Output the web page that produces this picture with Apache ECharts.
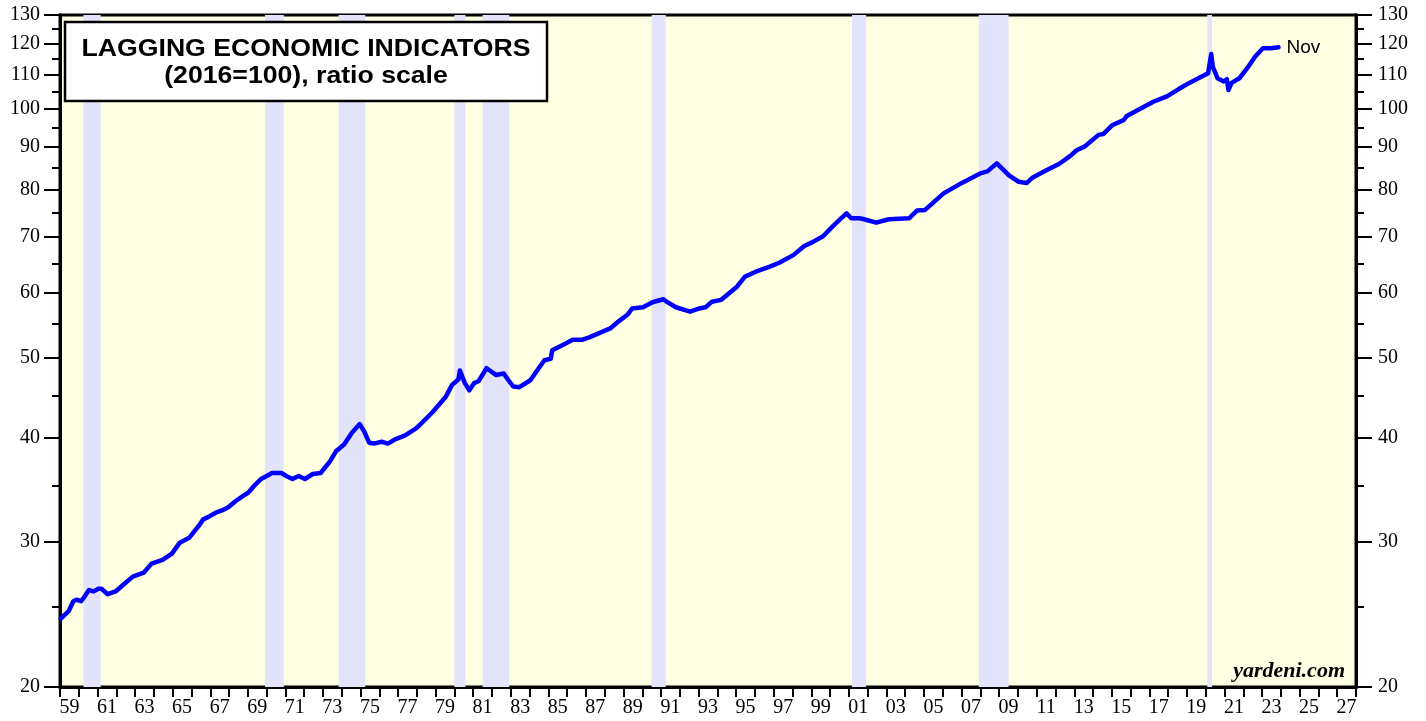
<!DOCTYPE html>
<html>
<head>
<meta charset="utf-8">
<script src="https://cdn.jsdelivr.net/npm/echarts@6/dist/echarts.min.js"></script>
<style>html,body{margin:0;padding:0;background:#fff}#c{width:1426px;height:721px}</style>
</head>
<body>
<div id="c"></div>
<script>
// ---- data ----
const dates = ["1959-01","1959-06","1959-09","1959-11","1960-02","1960-04","1960-07","1960-10","1961-01","1961-03","1961-07","1961-12","1962-04","1962-11","1963-06","1963-11","1964-06","1964-12","1965-05","1965-11","1966-05","1966-08","1966-11","1967-04","1967-08","1967-12","1968-05","1968-10","1969-01","1969-05","1969-09","1970-04","1970-10","1971-01","1971-05","1971-09","1972-01","1972-06","1972-11","1973-05","1973-09","1974-02","1974-07","1974-12","1975-03","1975-06","1975-09","1976-02","1976-06","1976-11","1977-05","1977-12","1978-04","1978-10","1979-03","1979-07","1979-11","1980-03","1980-04","1980-07","1980-10","1981-01","1981-04","1981-09","1982-03","1982-08","1982-11","1983-02","1983-06","1984-01","1984-07","1984-10","1985-02","1985-03","1985-10","1986-04","1986-10","1987-03","1987-09","1988-04","1988-10","1989-03","1989-06","1990-01","1990-07","1991-02","1991-04","1991-10","1992-07","1993-01","1993-05","1993-09","1994-03","1994-08","1995-01","1995-06","1996-01","1996-10","1997-04","1998-01","1998-08","1999-01","1999-08","2000-02","2000-07","2000-11","2001-02","2001-07","2001-09","2002-06","2003-02","2004-03","2004-08","2005-01","2006-01","2007-01","2008-01","2008-05","2008-11","2009-07","2010-01","2010-06","2010-10","2011-07","2012-03","2012-10","2013-02","2013-07","2013-10","2014-04","2014-07","2015-01","2015-08","2015-10","2016-07","2017-03","2017-12","2018-07","2019-02","2019-09","2020-02","2020-04","2020-05","2020-08","2020-12","2021-02","2021-03","2021-05","2021-10","2022-03","2022-08","2023-01","2023-06","2023-11"];
const lagging = [24.2,24.7,25.4,25.5,25.4,25.7,26.2,26.1,26.3,26.3,25.9,26.1,26.5,27.2,27.5,28.2,28.5,29.0,29.9,30.3,31.3,31.9,32.1,32.5,32.7,33.0,33.6,34.1,34.4,35.1,35.7,36.3,36.3,36.0,35.7,36.0,35.7,36.2,36.3,37.5,38.6,39.3,40.6,41.6,40.7,39.5,39.4,39.6,39.4,39.9,40.3,41.1,41.8,42.9,44.0,44.9,46.4,47.1,48.3,46.7,45.7,46.6,46.9,48.6,47.7,47.9,47.0,46.2,46.1,47.0,48.8,49.7,49.9,51.1,51.9,52.6,52.6,53.0,53.6,54.3,55.5,56.4,57.4,57.6,58.4,58.9,58.5,57.6,56.9,57.4,57.6,58.5,58.8,59.9,61.0,62.7,63.6,64.5,65.2,66.6,68.3,69.0,70.2,72.1,73.6,74.8,73.8,73.8,73.7,72.9,73.6,73.8,75.4,75.5,79.1,81.5,83.7,84.1,86.0,83.1,81.7,81.4,82.7,84.4,85.9,87.8,89.2,90.1,91.1,93.1,93.3,95.7,97.0,98.1,100.2,102.1,103.7,105.7,107.6,109.3,110.5,116.6,112.6,109.0,108.0,108.7,105.5,107.6,109.0,112.1,115.7,118.5,118.5,118.8];
const recessions = [["1960-04","1961-02"],["1969-12","1970-11"],["1973-11","1975-03"],["1980-01","1980-07"],["1981-07","1982-11"],["1990-07","1991-03"],["2001-03","2001-11"],["2007-12","2009-06"],["2020-02","2020-04"]];
const yearCats = []; for (let y = 1959; y <= 2027; y++) yearCats.push(String(y));
const majorTicks = [20,30,40,50,60,70,80,90,100,110,120,130];
const minorTicks = [25,35,45,55,65,75,85,95,105,115,125];
const yMin = 20, yMax = 130;
const lastLabel = "Nov";
const titleLines = ["LAGGING ECONOMIC INDICATORS", "(2016=100), ratio scale"];
const credit = "yardeni.com";

// ---- helpers ----
const L = v => Math.log10(v);
const dec = (s, end) => { const [y, m] = s.split("-").map(Number); return y + (m - 1) / 12 + (end ? 1 / 12 : 1 / 24); };
const decStart = s => { const [y, m] = s.split("-").map(Number); return y + (m - 1) / 12; };
const seriesData = dates.map((d, i) => [dec(d), L(lagging[i])]);
const areas = recessions.map(r => [{ xAxis: decStart(r[0]) }, { xAxis: dec(r[1], true) }]);

const serif = '"Liberation Serif","Times New Roman",serif';
const sans = '"Liberation Sans",Arial,sans-serif';
const lblStyle = { color: '#000', fontSize: 20, fontFamily: serif };

function yAx(pos, ticks, len, labels, margin) {
  return {
    type: 'value', position: pos, min: L(yMin), max: L(yMax),
    axisLine: { show: true, onZero: false, lineStyle: { color: '#000', width: 3 } },
    axisTick: { show: true, customValues: ticks.map(L), length: len, lineStyle: { color: '#000', width: 2 } },
    axisLabel: labels ? Object.assign({ show: true, customValues: ticks.map(L), margin: margin,
      formatter: v => String(Math.round(Math.pow(10, v))) }, lblStyle) : { show: false },
    splitLine: { show: false }
  };
}

const chart = echarts.init(document.getElementById('c'), null, { renderer: 'canvas' });
chart.setOption({
  animation: false,
  backgroundColor: '#fff',
  grid: { left: 60, right: 70, top: 15, bottom: 34, show: true, backgroundColor: '#FFFFE3', borderColor: '#000', borderWidth: 3 },
  xAxis: [
    { type: 'value', min: 1959, max: 2028, show: false },
    { type: 'category', data: yearCats, boundaryGap: true, position: 'bottom',
      axisLine: { show: true, lineStyle: { color: '#000', width: 3 } },
      axisTick: { show: true, interval: 0, length: 10, lineStyle: { color: '#000', width: 2 } },
      axisLabel: Object.assign({ interval: 1, margin: 11, formatter: v => v.slice(2) }, lblStyle),
      splitLine: { show: false } }
  ],
  yAxis: [
    yAx('left', majorTicks, 16, true, 20),
    yAx('left', minorTicks, 8, false),
    yAx('right', majorTicks, 16, true, 22),
    yAx('right', minorTicks, 8, false)
  ],
  series: [{
    type: 'line', xAxisIndex: 0, yAxisIndex: 0, data: seriesData,
    showSymbol: false, symbol: 'none',
    lineStyle: { color: '#0000FF', width: 4.5, join: 'round', cap: 'round' },
    itemStyle: { color: '#0000FF' },
    endLabel: { show: true, formatter: lastLabel, color: '#000', fontSize: 19, fontFamily: sans, distance: 8 },
    markArea: { silent: true, itemStyle: { color: '#E3E3FB' }, data: areas },
    z: 3
  }],
  graphic: [
    { type: 'rect', shape: { x: 65, y: 22, width: 482, height: 79 }, style: { fill: '#fff', stroke: '#000', lineWidth: 2.5 }, z: 10 },
    { type: 'text', x: 306, y: 49, scaleX: 1.11, z: 11,
      style: { text: titleLines[0], fill: '#000', font: 'bold 24px ' + sans, align: 'center', verticalAlign: 'middle' } },
    { type: 'text', x: 306, y: 76, scaleX: 1.11, z: 11,
      style: { text: titleLines[1], fill: '#000', font: 'bold 24px ' + sans, align: 'center', verticalAlign: 'middle' } },
    { type: 'text', x: 1345, y: 671, z: 11,
      style: { text: credit, fill: '#000', font: 'italic bold 22px ' + serif, align: 'right', verticalAlign: 'middle' } }
  ]
});
</script>
</body>
</html>
